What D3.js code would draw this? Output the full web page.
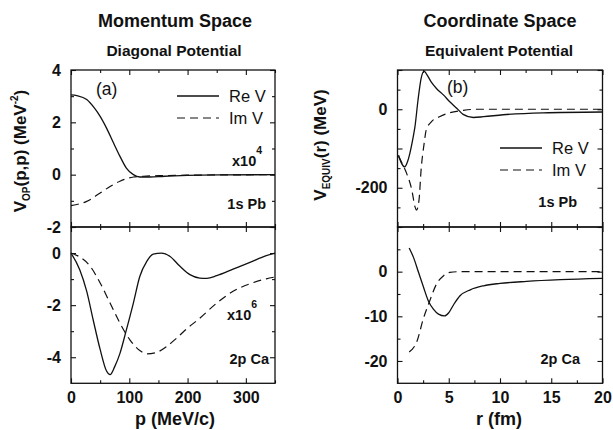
<!DOCTYPE html>
<html>
<head>
<meta charset="utf-8">
<script src="https://cdn.jsdelivr.net/npm/d3@7/dist/d3.min.js"></script>
<style>
  body { margin: 0; background: #fff; }
  svg { display: block; font-family: "Liberation Sans", Arial, Helvetica, sans-serif; }
  .tick text { font-weight: bold; font-size: 16px; fill: #111; }
  .tick line { stroke: #111; stroke-width: 1.1; }
</style>
</head>
<body>
<div id="chart"></div>
<script>
// --- DATA ---

// (a) momentum space, 1s Pb, x10^4
const pTopRe = [0, 10, 27, 40, 50, 61, 73, 84, 95, 107, 118, 135, 160, 200, 260, 350];
const reTop  = [3.05, 3.02, 2.87, 2.55, 2.23, 1.78, 1.21, 0.70, 0.25, 0.0, -0.09, -0.09, -0.06, -0.03, -0.01, 0.0];
const pTopIm = [0, 10, 27, 50, 67, 84, 107, 124, 150, 200, 260, 350];
const imTop  = [-1.18, -1.14, -1.02, -0.70, -0.45, -0.25, -0.09, -0.06, -0.04, -0.02, -0.01, 0.0];

// (a) momentum space, 2p Ca, x10^6
const pBotRe = [0, 15, 27, 38, 50, 61, 67, 75, 84, 95, 107, 118, 130, 141, 155, 170, 187, 204, 221, 233, 250, 278, 307, 335, 350];
const reBot  = [0, -0.64, -1.47, -2.56, -3.70, -4.53, -4.67, -4.36, -3.85, -2.95, -1.92, -0.90, -0.32, -0.04, 0.0, -0.13, -0.51, -0.83, -0.96, -0.97, -0.87, -0.62, -0.36, -0.10, 0.0];
const pBotIm = [0, 15, 33, 50, 67, 84, 101, 118, 130, 147, 164, 181, 198, 221, 250, 278, 307, 335, 350];
const imBot  = [0, -0.15, -0.51, -1.15, -1.92, -2.69, -3.33, -3.74, -3.87, -3.81, -3.59, -3.27, -2.92, -2.50, -1.92, -1.47, -1.18, -0.99, -0.92];

// (b) coordinate space, 1s Pb (MeV)
const rTopRe = [0.1, 0.4, 0.7, 1.0, 1.2, 1.5, 1.7, 2.0, 2.3, 2.6, 2.8, 3.3, 3.8, 4.5, 5.1, 5.8, 6.4, 7.4, 8.4, 10.3, 14.2, 20];
const reTopR = [-117, -138, -147, -132, -113, -75, -45, 23, 78, 97, 91, 69, 53, 36, 19, 2, -13, -21, -19, -14, -9, -7];
const rTopIm = [0.1, 0.4, 0.9, 1.4, 1.7, 1.85, 2.1, 2.3, 2.6, 2.8, 3.3, 4.1, 5.1, 6.4, 7.7, 12, 20];
const imTopR = [-120, -135, -164, -206, -248, -257, -231, -155, -87, -53, -32, -19, -9, -3, 0, 0, 0];

// (b) coordinate space, 2p Ca (MeV)
const rBotRe = [1.14, 1.56, 2.05, 2.54, 3.0, 3.5, 4.0, 4.6, 5.0, 5.5, 6.1, 7.1, 8.4, 10, 12.6, 15.9, 20];
const reBotR = [5.3, 3.2, -0.15, -3.5, -6.5, -8.4, -9.5, -9.9, -9.2, -7.3, -5.4, -4.06, -3.16, -2.63, -2.18, -1.8, -1.5];
const rBotIm = [1.14, 1.9, 2.5, 3.2, 3.8, 4.5, 5.1, 6.1, 10, 20];
const imBotR = [-18, -15.6, -10.7, -6.2, -2.8, -0.9, -0.15, 0, 0, 0];

// tick values
const pMajor = [0, 100, 200, 300];
const pMinor = [50, 150, 250, 350];
const rMajor = [0, 5, 10, 15, 20];
const rMinor = [2.5, 7.5, 12.5, 17.5];

// --- DRAWING ---
const W = 613, H = 430;
const svg = d3.select("#chart").append("svg")
    .attr("width", W)
    .attr("height", H);

const ink = "#111";
const num = d => String(d); // plain hyphen minus, like the original

const xP = d3.scaleLinear([0, 350], [71, 275]);
const xR = d3.scaleLinear([0, 20], [397.5, 602.5]);
const yTopTop = 70, yMid = 227, yBot = 383.3;

// draw one panel: border, inward ticks on all four sides, labels, curves
function panel(x, y, o) {
    const g = svg.append("g");
    const [x0, x1] = x.range();
    const [y1, y0] = y.range();

    const ticks = (axis, tr, vals, size, fmt) => {
        const a = g.append("g")
            .attr("transform", tr)
            .call(axis.tickValues(vals).tickSize(-size).tickPadding(8)
                .tickFormat(fmt || (() => "")));
        a.select(".domain").remove();
        return a;
    };

    // x ticks
    ticks(d3.axisBottom(x), `translate(0,${y1})`, o.xMajor, 5, o.xLabels ? num : null);
    ticks(d3.axisBottom(x), `translate(0,${y1})`, o.xMinor, 3);
    ticks(d3.axisTop(x), `translate(0,${y0})`, o.xMajor, 5);
    ticks(d3.axisTop(x), `translate(0,${y0})`, o.xMinor, 3);

    // y ticks
    ticks(d3.axisLeft(y), `translate(${x0},0)`, o.yMajor, 5, d => o.yLabels.includes(d) ? num(d) : "")
        .selectAll("text").attr("x", -o.ypad);
    ticks(d3.axisLeft(y), `translate(${x0},0)`, o.yMinor, 3);
    ticks(d3.axisRight(y), `translate(${x1},0)`, o.yMajor, 5);
    ticks(d3.axisRight(y), `translate(${x1},0)`, o.yMinor, 3);

    g.selectAll(".tick text").attr("fill", ink);

    // border
    g.append("rect")
        .attr("x", x0).attr("y", y0)
        .attr("width", x1 - x0).attr("height", y1 - y0)
        .attr("fill", "none")
        .attr("stroke", ink)
        .attr("stroke-width", 1.3);

    const line = d3.line()
        .x(d => x(d[0]))
        .y(d => y(d[1]))
        .curve(d3.curveMonotoneX);

    g.append("path")
        .datum(d3.zip(o.reX, o.re))
        .attr("d", line)
        .attr("fill", "none")
        .attr("stroke", ink)
        .attr("stroke-width", 1.3);

    g.append("path")
        .datum(d3.zip(o.imX, o.im))
        .attr("d", line)
        .attr("fill", "none")
        .attr("stroke", ink)
        .attr("stroke-width", 1.2)
        .attr("stroke-dasharray", "8,5");

    return g;
}

const yTL = d3.scaleLinear([-2, 4], [yMid, yTopTop]);
const yBL = d3.scaleLinear([-5, 1], [yBot, yMid]);
const yTR = d3.scaleLinear([-300, 100], [yMid, yTopTop]);
const yBR = d3.scaleLinear([-25, 10], [yBot, yMid]);

panel(xP, yTL, {
    xMajor: pMajor, xMinor: pMinor, xLabels: false,
    yMajor: [4, 2, 0, -2], yMinor: [3, 1, -1], yLabels: [4, 2, 0, -2], ypad: 10,
    reX: pTopRe, re: reTop, imX: pTopIm, im: imTop
});
panel(xP, yBL, {
    xMajor: pMajor, xMinor: pMinor, xLabels: true,
    yMajor: [0, -2, -4], yMinor: [1, -1, -3], yLabels: [0, -2, -4], ypad: 10,
    reX: pBotRe, re: reBot, imX: pBotIm, im: imBot
});
panel(xR, yTR, {
    xMajor: rMajor, xMinor: rMinor, xLabels: false,
    yMajor: [100, 0, -100, -200], yMinor: [50, -50, -150, -250], yLabels: [0, -200], ypad: 10,
    reX: rTopRe, re: reTopR, imX: rTopIm, im: imTopR
});
panel(xR, yBR, {
    xMajor: rMajor, xMinor: rMinor, xLabels: true,
    yMajor: [10, 0, -10, -20], yMinor: [5, -5, -15], yLabels: [0, -10, -20], ypad: 10,
    reX: rBotRe, re: reBotR, imX: rBotIm, im: imBotR
});

// --- TEXT ---
function txt(x, y, s, size, opts = {}) {
    return svg.append("text")
        .attr("x", x).attr("y", y)
        .attr("font-size", size)
        .attr("font-weight", opts.weight || "normal")
        .attr("text-anchor", opts.anchor || "start")
        .attr("fill", ink)
        .text(s);
}

txt(175, 27, "Momentum Space", 18, {anchor: "middle", weight: "bold"});
txt(174, 56, "Diagonal Potential", 15.5, {anchor: "middle", weight: "bold"});
txt(500, 27, "Coordinate Space", 18, {anchor: "middle", weight: "bold"});
txt(499, 56, "Equivalent Potential", 15.5, {anchor: "middle", weight: "bold"});

txt(175, 425, "p (MeV/c)", 18, {anchor: "middle", weight: "bold"});
txt(499, 425, "r (fm)", 18, {anchor: "middle", weight: "bold"});

// y axis titles
const yl = svg.append("text")
    .attr("transform", "translate(26,151) rotate(-90)")
    .attr("text-anchor", "middle")
    .attr("font-weight", "bold")
    .attr("font-size", 17)
    .attr("fill", ink);
yl.append("tspan").text("V");
yl.append("tspan").attr("font-size", 10).attr("dy", 4).text("OP");
yl.append("tspan").attr("dy", -4).text("(p,p) (MeV");
yl.append("tspan").attr("font-size", 10).attr("dy", -8).text("-2");
yl.append("tspan").attr("dy", 8).text(")");

const yr = svg.append("text")
    .attr("transform", "translate(326,145) rotate(-90)")
    .attr("text-anchor", "middle")
    .attr("font-weight", "bold")
    .attr("font-size", 17)
    .attr("fill", ink);
yr.append("tspan").text("V");
yr.append("tspan").attr("font-size", 10).attr("dy", 4).text("EQUIV");
yr.append("tspan").attr("dy", -4).text("(r) (MeV)");

// panel tags
txt(96, 95, "(a)", 17.5);
txt(447, 93, "(b)", 17.5);

// legends
function legend(x, y) {
    svg.append("line").attr("x1", x).attr("x2", x + 42).attr("y1", y).attr("y2", y)
        .attr("stroke", ink).attr("stroke-width", 1.3);
    txt(x + 52, y + 6, "Re V", 16.5);
    svg.append("line").attr("x1", x).attr("x2", x + 42).attr("y1", y + 22).attr("y2", y + 22)
        .attr("stroke", ink).attr("stroke-width", 1.2).attr("stroke-dasharray", "8,5");
    txt(x + 52, y + 28, "Im V", 16.5);
}
legend(177, 96);
legend(500, 148);

// scale factors and nucleus labels
function factor(x, y, exp) {
    const t = txt(x, y, "x10", 14.5, {weight: "bold"});
    t.append("tspan").attr("font-size", 10.5).attr("dy", -12).text(exp);
}
factor(232, 166, "4");
factor(227, 320, "6");

txt(266, 209, "1s Pb", 14.5, {weight: "bold", anchor: "end"});
txt(269, 364, "2p Ca", 14.5, {weight: "bold", anchor: "end"});
txt(577, 207, "1s Pb", 14.5, {weight: "bold", anchor: "end"});
txt(580, 364, "2p Ca", 14.5, {weight: "bold", anchor: "end"});
</script>
</body>
</html>
